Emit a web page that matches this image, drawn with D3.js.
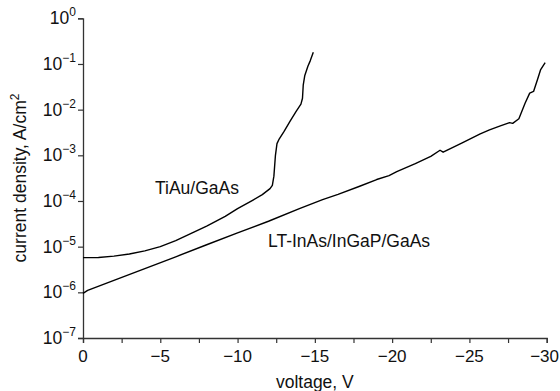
<!DOCTYPE html>
<html><head><meta charset="utf-8">
<script src="https://cdn.jsdelivr.net/npm/d3@7"></script>
<style>
html,body{margin:0;padding:0;background:#fff;}
svg text{font-family:"Liberation Sans",Arial,Helvetica,sans-serif;fill:#111;}
</style></head>
<body><svg id="c" width="560" height="391"></svg>
<script>
// ---- data ----
const tiauVoltage = [0,-1,-2,-3,-4,-5,-6,-7,-8,-9.2,-10,-11,-11.6,-12.1,-12.25,-12.35,-12.45,-12.55,-12.7,-13.0,-13.4,-13.8,-14.1,-14.2,-14.25,-14.35,-14.55,-14.7,-14.9];
const tiauCurrent = [5.75e-6,5.8e-6,6.2e-6,6.9e-6,8.1e-6,1.0e-5,1.35e-5,1.95e-5,2.8e-5,4.6e-5,6.8e-5,1.05e-4,1.38e-4,1.86e-4,2.2e-4,3.5e-4,1.0e-3,1.8e-3,2.3e-3,3.3e-3,5.6e-3,9.3e-3,1.32e-2,1.78e-2,3.5e-2,5.6e-2,8.9e-2,0.117,0.18];
const ltVoltage = [0,-0.3,-2,-4,-6,-8,-10,-12,-14,-15.5,-16.5,-17.9,-19,-19.8,-20.3,-21.5,-22.5,-23.1,-23.3,-24.5,-25.7,-26.3,-27.0,-27.6,-27.8,-28.2,-28.6,-28.9,-29.15,-29.4,-29.6,-29.9];
const ltCurrent = [9.5e-7,1.1e-6,1.82e-6,3.3e-6,6.0e-6,1.1e-5,2.0e-5,3.6e-5,6.8e-5,1.07e-4,1.4e-4,2.1e-4,2.95e-4,3.6e-4,4.4e-4,6.6e-4,9.5e-4,1.29e-3,1.17e-3,1.86e-3,2.95e-3,3.6e-3,4.4e-3,5.2e-3,5.0e-3,6.3e-3,1.38e-2,2.3e-2,2.5e-2,4.5e-2,7.4e-2,0.107];
const xTickValues = [0,-5,-10,-15,-20,-25,-30];
const xMinorTicks = [0,-2.5,-5,-7.5,-10,-12.5,-15,-17.5,-20,-22.5,-25,-27.5,-30];
const yTickExponents = [0,-1,-2,-3,-4,-5,-6,-7];
const seriesLabels = ["TiAu/GaAs","LT-InAs/InGaP/GaAs"];
const xTitle = "voltage, V";
const yTitle = "current density, A/cm";

const svg = d3.select("#c");
const x = d3.scaleLinear().domain([0,-30]).range([83,546.7]);
const y = d3.scaleLog().domain([1e-7,1]).range([338,18.3]);
const axisColor = "#333";

// x axis
const gx = svg.append("g").attr("transform","translate(0,338)");
gx.call(d3.axisBottom(x).tickValues(xMinorTicks).tickSize(5).tickFormat(""));
gx.select(".domain").attr("stroke",axisColor).attr("stroke-width",1.3);
gx.selectAll(".tick line").attr("stroke",axisColor).attr("stroke-width",1.2);
svg.append("g").selectAll("text").data(xTickValues).join("text")
  .attr("x",d=> d===-30 ? 559 : x(d)).attr("y",362)
  .attr("text-anchor",d=> d===-30 ? "end" : "middle")
  .style("font-size","17px")
  .text(d=> d===0 ? "0" : "\u2212"+Math.abs(d));

// y axis
const gy = svg.append("g").attr("transform","translate(83,0)");
gy.call(d3.axisLeft(y).tickValues(yTickExponents.map(e=>Math.pow(10,e))).tickSize(5).tickFormat(""));
gy.select(".domain").attr("stroke",axisColor).attr("stroke-width",1.3);
gy.selectAll(".tick line").attr("stroke",axisColor).attr("stroke-width",1.2);
const yl = svg.append("g").selectAll("text").data(yTickExponents).join("text")
  .attr("x",76).attr("y",e=>y(Math.pow(10,e))+6).attr("text-anchor","end")
  .style("font-size","17.5px");
yl.append("tspan").text("10");
yl.append("tspan").attr("dy",-8).style("font-size","12px").text(e=> e===0 ? "0" : "\u2212"+Math.abs(e));

// titles
svg.append("text").attr("x",x(-15)).attr("y",388).attr("text-anchor","middle")
  .style("font-size","17.5px").text(xTitle);
const yt = svg.append("text").attr("transform","translate(26,178) rotate(-90)")
  .attr("text-anchor","middle").style("font-size","17.5px");
yt.append("tspan").text(yTitle);
yt.append("tspan").attr("dy",-7).style("font-size","12px").text("2");

// lines
const line = d3.line().x(d=>x(d[0])).y(d=>y(d[1]));
svg.append("path").datum(d3.zip(tiauVoltage,tiauCurrent)).attr("d",line)
  .attr("fill","none").attr("stroke","#000").attr("stroke-width",1.4).attr("stroke-linejoin","round");
svg.append("path").datum(d3.zip(ltVoltage,ltCurrent)).attr("d",line)
  .attr("fill","none").attr("stroke","#000").attr("stroke-width",1.4).attr("stroke-linejoin","round");

// series labels
svg.append("text").attr("x",155).attr("y",194).style("font-size","17.5px").text(seriesLabels[0]);
svg.append("text").attr("x",268).attr("y",247).style("font-size","17.5px").text(seriesLabels[1]);
</script></body></html>
